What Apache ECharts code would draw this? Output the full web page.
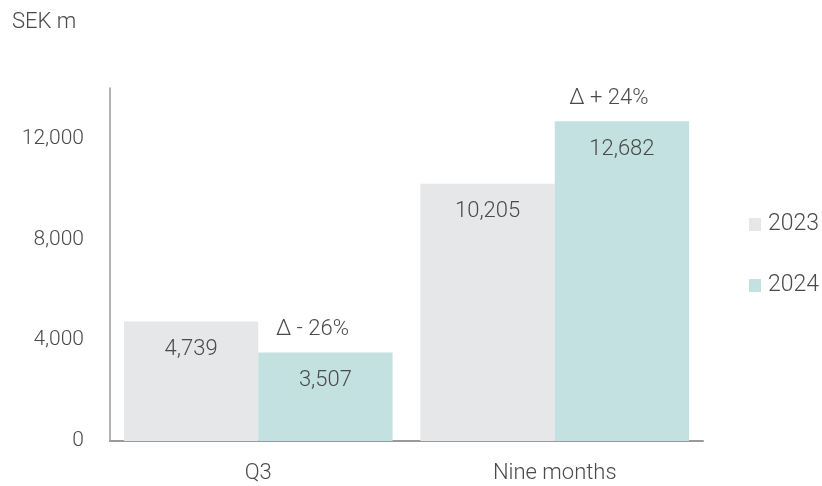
<!DOCTYPE html>
<html>
<head>
<meta charset="utf-8">
<script src="https://cdn.jsdelivr.net/npm/echarts@6/dist/echarts.min.js"></script>
<style>
  html, body { margin: 0; padding: 0; background: #fff; }
  #chart { width: 822px; height: 486px; }
</style>
</head>
<body>
<div id="chart"></div>
<script>
const categories = ["Q3", "Nine months"];
const seriesNames = ["2023", "2024"];
const values2023 = [4739, 10205];
const values2024 = [3507, 12682];
const deltaLabels = ["Δ - 26%", "Δ + 24%"];

const textColor = "#4a4a4a";
const font = "Roboto, 'Liberation Sans', sans-serif";

var myChart = echarts.init(document.getElementById("chart"));

const fmt = (v) => v.toLocaleString("en-US");

var option = {
  animation: false,
  textStyle: { fontFamily: font },
  title: {
    text: "SEK m",
    left: 7,
    top: 6,
    textStyle: { fontFamily: font, fontSize: 22, fontWeight: 300, color: textColor },
  },
  legend: {
    data: seriesNames,
    orient: "vertical",
    left: 744,
    top: 208,
    itemWidth: 12,
    itemHeight: 13,
    itemGap: 38,
    icon: "rect",
    textStyle: { fontFamily: font, fontSize: 23, fontWeight: 300, color: textColor, padding: [0, 0, 0, 2] },
  },
  grid: {
    left: 110,
    right: 119,
    top: 88,
    bottom: 45,
  },
  xAxis: {
    type: "category",
    data: categories,
    axisTick: { show: false },
    axisLine: { lineStyle: { color: "#9a9a9a", width: 2 } },
    axisLabel: { margin: 21, fontSize: 22, fontWeight: 300, color: textColor, fontFamily: font },
  },
  yAxis: {
    type: "value",
    min: 0,
    max: 14000,
    interval: 2000,
    axisLine: { show: true, lineStyle: { color: "#9a9a9a", width: 1.5 } },
    axisTick: { show: false },
    splitLine: { show: false },
    axisLabel: {
      margin: 26,
      fontSize: 21,
      fontWeight: 300,
      color: textColor,
      fontFamily: font,
      formatter: (v) => (v % 4000 === 0 && v < 14000 ? fmt(v) : ""),
    },
  },
  series: [
    {
      name: seriesNames[0],
      type: "bar",
      data: values2023,
      barGap: 0,
      barCategoryGap: "9.4%",
      itemStyle: { color: "#e6e7e9" },
      label: {
        show: true,
        position: "insideTop",
        distance: 17,
        fontSize: 22,
        fontWeight: 300,
        color: textColor,
        fontFamily: font,
        formatter: (p) => fmt(p.value),
      },
    },
    {
      name: seriesNames[1],
      type: "bar",
      data: values2024,
      barGap: 0,
      barCategoryGap: "9.4%",
      itemStyle: { color: "#c2e1e0" },
      label: {
        show: true,
        position: "insideTop",
        distance: 17,
        fontSize: 22,
        fontWeight: 300,
        color: textColor,
        fontFamily: font,
        formatter: (p) => fmt(p.value),
      },
      markPoint: {
        symbol: "circle",
        symbolSize: 0,
        itemStyle: { color: "transparent" },
        label: {
          show: true,
          position: "top",
          distance: 12,
          offset: [-13, 0],
          fontSize: 22,
          fontWeight: 300,
          color: textColor,
          fontFamily: font,
          formatter: (p) => p.name,
        },
        data: values2024.map((v, i) => ({ name: deltaLabels[i], coord: [i, v] })),
      },
    },
  ],
};

option && myChart.setOption(option);
</script>
</body>
</html>
